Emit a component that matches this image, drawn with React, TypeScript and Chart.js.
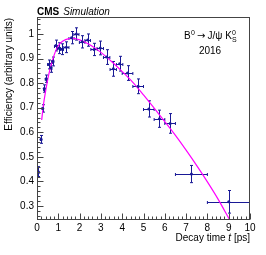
import React, { useEffect, useRef } from "react";
import { Chart, registerables } from "chart.js";

Chart.register(...registerables);

// Fit curve
const fitX = [0.22, 0.3, 0.4, 0.55, 0.7, 0.85, 1.0, 1.2, 1.5, 1.7, 2.0, 2.5, 3.0, 3.5, 4.0, 4.5, 5.0, 5.5, 6.0, 6.5, 7.0, 7.5, 8.0, 8.5, 9.05];
const fitY = [0.65, 0.71, 0.765, 0.835, 0.885, 0.925, 0.952, 0.97, 0.981, 0.982, 0.976, 0.955, 0.925, 0.888, 0.847, 0.803, 0.752, 0.698, 0.643, 0.587, 0.527, 0.464, 0.398, 0.328, 0.243];

// Data points
const ptX = [0.05, 0.19, 0.27, 0.34, 0.43, 0.55, 0.65, 0.74, 0.89, 1.03, 1.17, 1.38, 1.62, 1.85, 2.12, 2.38, 2.68, 2.97, 3.27, 3.58, 3.88, 4.25, 4.75, 5.25, 5.75, 6.25, 7.25, 9.0];
const ptY = [0.44, 0.571, 0.697, 0.778, 0.818, 0.876, 0.862, 0.888, 0.953, 0.942, 0.938, 0.946, 0.985, 1.0, 0.968, 0.975, 0.937, 0.943, 0.906, 0.858, 0.879, 0.841, 0.787, 0.695, 0.655, 0.636, 0.43, 0.317];
const ptXErr = [0.05, 0.03, 0.03, 0.03, 0.04, 0.05, 0.05, 0.05, 0.07, 0.07, 0.07, 0.12, 0.12, 0.12, 0.13, 0.13, 0.15, 0.15, 0.15, 0.15, 0.15, 0.25, 0.25, 0.25, 0.25, 0.25, 0.75, 1.0];
const ptYErr = [0.02, 0.016, 0.015, 0.015, 0.015, 0.018, 0.018, 0.018, 0.022, 0.022, 0.022, 0.022, 0.025, 0.025, 0.025, 0.025, 0.025, 0.028, 0.03, 0.03, 0.03, 0.03, 0.03, 0.033, 0.035, 0.04, 0.035, 0.046];

// Axis ticks
const xTicks = [0, 1, 2, 3, 4, 5, 6, 7, 8, 9, 10];
const xTickLabels = ["0", "1", "2", "3", "4", "5", "6", "7", "8", "9", "10"];
const yTicks = [0.3, 0.4, 0.5, 0.6, 0.7, 0.8, 0.9, 1.0];
const yTickLabels = ["0.3", "0.4", "0.5", "0.6", "0.7", "0.8", "0.9", "1"];

const FONT = '"Liberation Sans", Arial, sans-serif';
const BLUE = "rgb(25,25,150)";

const rootPlugin = {
  id: "rootStyle",
  beforeDatasetsDraw(chart: any) {
    const ctx = chart.ctx;
    const xs = chart.scales.x;
    const ys = chart.scales.y;
    const ca = chart.chartArea;
    ctx.save();
    ctx.beginPath();
    ctx.rect(ca.left, ca.top, ca.right - ca.left, ca.bottom - ca.top);
    ctx.clip();
    ctx.strokeStyle = BLUE;
    ctx.lineWidth = 1;
    const cap = 1.5;
    for (let i = 0; i < ptX.length; i++) {
      const cx = xs.getPixelForValue(ptX[i]);
      const cy = ys.getPixelForValue(ptY[i]);
      const x1 = xs.getPixelForValue(ptX[i] - ptXErr[i]);
      const x2 = xs.getPixelForValue(ptX[i] + ptXErr[i]);
      const y1 = ys.getPixelForValue(ptY[i] - ptYErr[i]);
      const y2 = ys.getPixelForValue(ptY[i] + ptYErr[i]);
      const px = Math.round(cx) + 0.5;
      const py = Math.round(cy) + 0.5;
      ctx.beginPath();
      ctx.moveTo(x1, py);
      ctx.lineTo(x2, py);
      ctx.moveTo(px, y1);
      ctx.lineTo(px, y2);
      ctx.moveTo(px - cap, y1);
      ctx.lineTo(px + cap, y1);
      ctx.moveTo(px - cap, y2);
      ctx.lineTo(px + cap, y2);
      ctx.moveTo(x1, py - cap);
      ctx.lineTo(x1, py + cap);
      ctx.moveTo(x2, py - cap);
      ctx.lineTo(x2, py + cap);
      ctx.stroke();
    }
    ctx.restore();
  },
  afterDraw(chart: any) {
    const ctx = chart.ctx;
    const xs = chart.scales.x;
    const ys = chart.scales.y;
    const ca = chart.chartArea;
    ctx.save();
    ctx.strokeStyle = "#444";
    ctx.lineWidth = 1;
    const L = Math.round(ca.left) + 0.5;
    const R = Math.round(ca.right) - 0.5;
    const T = Math.round(ca.top) + 0.5;
    const B = Math.round(ca.bottom) - 0.5;
    ctx.strokeRect(L, T, R - L, B - T);
    ctx.beginPath();
    for (let v = 0; v <= 10.0001; v += 0.2) {
      const major = Math.abs(v - Math.round(v)) < 1e-6;
      const p = Math.round(xs.getPixelForValue(v)) + 0.5;
      ctx.moveTo(p, B);
      ctx.lineTo(p, B - (major ? 6 : 3));
    }
    for (let k = 13; k <= 53; k++) {
      const v = k * 0.02;
      if (v < ys.min || v > ys.max) continue;
      const major = k % 5 === 0;
      const p = Math.round(ys.getPixelForValue(v)) + 0.5;
      ctx.moveTo(L, p);
      ctx.lineTo(L + (major ? 6 : 3), p);
    }
    ctx.stroke();

    ctx.fillStyle = "#000";
    ctx.save();
    ctx.translate(9, ca.top + 1);
    ctx.rotate(-Math.PI / 2);
    ctx.font = `10px ${FONT}`;
    ctx.textAlign = "right";
    ctx.textBaseline = "middle";
    ctx.fillText("Efficiency (arbitrary units)", 0, 0);
    ctx.restore();

    ctx.textBaseline = "middle";
    ctx.textAlign = "left";
    const tY = 238;
    ctx.font = `10px ${FONT}`;
    const s1 = "Decay time ";
    const s3 = " [ps]";
    const w1 = ctx.measureText(s1).width;
    const w3 = ctx.measureText(s3).width;
    ctx.font = `italic 10px ${FONT}`;
    const w2 = ctx.measureText("t").width;
    const x0 = ca.right - (w1 + w2 + w3);
    ctx.font = `10px ${FONT}`;
    ctx.fillText(s1, x0, tY);
    ctx.font = `italic 10px ${FONT}`;
    ctx.fillText("t", x0 + w1, tY);
    ctx.font = `10px ${FONT}`;
    ctx.fillText(s3, x0 + w1 + w2, tY);

    ctx.textBaseline = "alphabetic";
    ctx.font = `bold 10px ${FONT}`;
    ctx.fillText("CMS", ca.left, 15);
    const wc = ctx.measureText("CMS").width;
    ctx.font = `italic 10px ${FONT}`;
    ctx.fillText("Simulation", ca.left + wc + 4, 15);

    let lx = 184;
    const ly = 39;
    ctx.font = `10px ${FONT}`;
    ctx.fillText("B", lx, ly);
    lx += ctx.measureText("B").width;
    ctx.font = `7px ${FONT}`;
    ctx.fillText("0", lx + 0.3, ly - 4);
    lx += ctx.measureText("0").width + 2.5;
    ctx.font = `10px "DejaVu Sans", sans-serif`;
    ctx.fillText("\u2192", lx, ly);
    lx += ctx.measureText("\u2192").width + 2;
    ctx.font = `10px ${FONT}`;
    const mid = "J/\u03C8 K";
    ctx.fillText(mid, lx, ly);
    lx += ctx.measureText(mid).width;
    ctx.font = `7px ${FONT}`;
    ctx.fillText("0", lx + 0.3, ly - 4);
    ctx.fillText("S", lx + 0.3, ly + 3);
    ctx.font = `10px ${FONT}`;
    ctx.textAlign = "center";
    ctx.fillText("2016", 210, 54);
    ctx.restore();
  },
};

export default function App() {
  const ref = useRef<HTMLCanvasElement | null>(null);
  useEffect(() => {
    if (!ref.current) return;
    const chart = new Chart(ref.current, {
      type: "scatter",
      data: {
        datasets: [
          {
            label: "fit",
            data: fitX.map((x, i) => ({ x, y: fitY[i] })),
            showLine: true,
            borderColor: "#ff00ff",
            borderWidth: 1.2,
            pointRadius: 0,
            cubicInterpolationMode: "monotone",
            order: 2,
          } as any,
          {
            label: "data",
            data: ptX.map((x, i) => ({ x, y: ptY[i] })),
            pointRadius: 1.5,
            pointBackgroundColor: BLUE,
            pointBorderColor: BLUE,
            pointBorderWidth: 0,
            order: 1,
          },
        ],
      },
      options: {
        animation: false,
        responsive: false,
        devicePixelRatio: 1,
        events: [],
        layout: { padding: { top: 17, right: 16, left: 0, bottom: 0 } },
        plugins: { legend: { display: false }, tooltip: { enabled: false }, title: { display: false } },
        scales: {
          x: {
            type: "linear",
            min: 0,
            max: 10,
            grid: { display: false, drawTicks: false },
            border: { display: false },
            afterBuildTicks: (s: any) => {
              s.ticks = xTicks.map((v) => ({ value: v }));
            },
            afterFit: (s: any) => {
              s.height = 35;
            },
            ticks: {
              padding: 2,
              color: "#000",
              font: { family: FONT, size: 10 },
              maxRotation: 0,
              callback: (v: any) => {
                const i = xTicks.findIndex((t) => Math.abs(t - v) < 1e-6);
                return i >= 0 ? xTickLabels[i] : "";
              },
            },
          },
          y: {
            type: "linear",
            min: 0.243,
            max: 1.069,
            grid: { display: false, drawTicks: false },
            border: { display: false },
            afterBuildTicks: (s: any) => {
              s.ticks = yTicks.map((v) => ({ value: v }));
            },
            afterFit: (s: any) => {
              s.width = 37;
            },
            ticks: {
              padding: 3,
              color: "#000",
              font: { family: FONT, size: 10 },
              callback: (v: any) => {
                const i = yTicks.findIndex((t) => Math.abs(t - v) < 1e-6);
                return i >= 0 ? yTickLabels[i] : "";
              },
            },
          },
        },
      },
      plugins: [rootPlugin],
    });
    return () => chart.destroy();
  }, []);
  return (
    <div style={{ position: "absolute", left: 0, top: 0, width: 266, height: 255, background: "#fff" }}>
      <canvas ref={ref} width={266} height={255} style={{ width: 266, height: 255, display: "block" }} />
    </div>
  );
}
